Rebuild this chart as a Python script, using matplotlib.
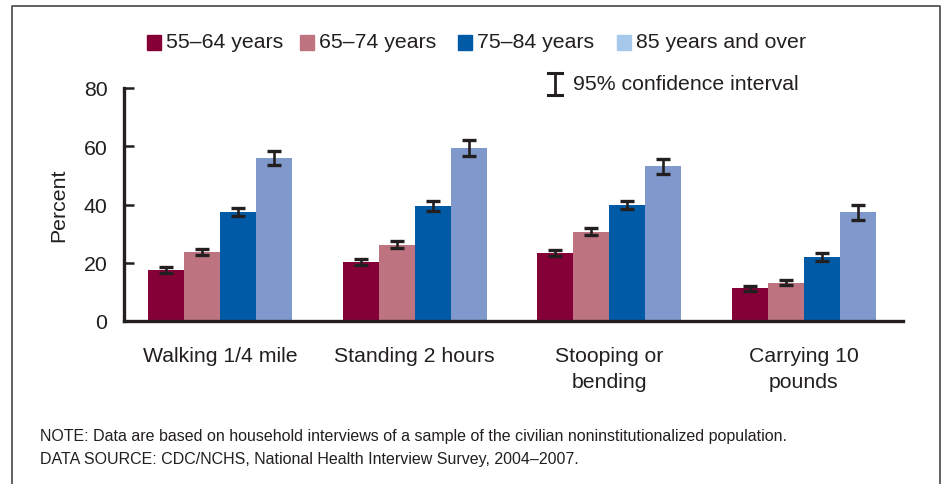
import matplotlib
matplotlib.use("Agg")
import matplotlib.pyplot as plt
from matplotlib.patches import Rectangle
from matplotlib.lines import Line2D
import numpy as np

plt.rcParams['font.family'] = ['Liberation Sans', 'DejaVu Sans']

categories = ["Walking 1/4 mile", "Standing 2 hours", "Stooping or\nbending", "Carrying 10\npounds"]
series = ["55\u201364 years", "65\u201374 years", "75\u201384 years", "85 years and over"]

age_55_64 = [17.5, 20.3, 23.3, 11.3]
age_65_74 = [23.7, 26.1, 30.6, 13.2]
age_75_84 = [37.4, 39.5, 39.8, 22.0]
age_85_up = [56.0, 59.4, 53.1, 37.3]

ci_55_64 = [0.9, 1.0, 1.0, 0.85]
ci_65_74 = [1.1, 1.2, 1.2, 1.0]
ci_75_84 = [1.4, 1.6, 1.4, 1.4]
ci_85_up = [2.5, 2.6, 2.5, 2.6]

values = [age_55_64, age_65_74, age_75_84, age_85_up]
errors = [ci_55_64, ci_65_74, ci_75_84, ci_85_up]

bar_colors = ["#860038", "#BD7480", "#005AA6", "#7F99CC"]
legend_colors = ["#860038", "#BD7480", "#005AA6", "#A5C8EB"]
ink = "#231F20"
fs = 15.3

W, H = 947, 485
fig = plt.figure(figsize=(W / 100, H / 100), dpi=100)
ax = fig.add_axes([124 / W, 1 - 322 / H, (903 - 124) / W, (322 - 89) / H])

x = np.arange(len(categories))
bw = 0.185
for i, (vals, errs, col) in enumerate(zip(values, errors, bar_colors)):
    pos = x + (i - 1.5) * bw
    ax.bar(pos, vals, width=bw, color=col, edgecolor='none', zorder=2)
    ax.errorbar(pos, vals, yerr=errs, fmt='none', ecolor=ink,
                elinewidth=1.9, capsize=5.3, capthick=2.4, zorder=3)

ax.set_xlim(-0.494, 3.51)
ax.set_ylim(0, 80)
ax.set_yticks([0, 20, 40, 60, 80])
ax.tick_params(axis='y', direction='in', length=7, width=1.8,
               labelsize=fs, pad=12, color=ink, labelcolor=ink)
ax.set_xticks(x)
ax.set_xticklabels(categories, fontsize=fs, color=ink, linespacing=1.45)
ax.tick_params(axis='x', length=0, pad=18)
for side in ('top', 'right'):
    ax.spines[side].set_visible(False)
for side in ('left', 'bottom'):
    ax.spines[side].set_linewidth(2.4)
    ax.spines[side].set_color(ink)
ax.set_ylabel("Percent", fontsize=fs, color=ink, labelpad=11)

# Legend row of colour swatches
sw_x = [147, 300, 458, 617]
for sx, col, label in zip(sw_x, legend_colors, series):
    fig.patches.append(Rectangle((sx / W, 1 - 51 / H), 14 / W, 15 / H,
                                 transform=fig.transFigure, color=col))
    fig.text((sx + 19) / W, 1 - 43 / H, label, fontsize=fs, color=ink,
             va='center', ha='left')

# Confidence interval key
cx, y0, y1 = 555, 74, 96
fig.lines.append(Line2D([cx / W, cx / W], [1 - y0 / H, 1 - y1 / H],
                        transform=fig.transFigure, color=ink, lw=2))
for yy in (y0, y1):
    fig.lines.append(Line2D([(cx - 7) / W, (cx + 7) / W], [1 - yy / H, 1 - yy / H],
                            transform=fig.transFigure, color=ink, lw=2.2))
fig.text(573 / W, 1 - 84 / H, "95% confidence interval", fontsize=fs,
         color=ink, va='center', ha='left')

# Notes
fig.text(40 / W, 1 - 437 / H,
         "NOTE: Data are based on household interviews of a sample of the civilian noninstitutionalized population.",
         fontsize=11.55, color=ink, va='center', ha='left')
fig.text(40 / W, 1 - 460 / H,
         "DATA SOURCE: CDC/NCHS, National Health Interview Survey, 2004\u20132007.",
         fontsize=11.55, color=ink, va='center', ha='left')

# Outer frame
fc = "#555555"
fig.lines.append(Line2D([12 / W, 12 / W, 940 / W, 940 / W], [0, 1 - 7 / H, 1 - 7 / H, 0],
                        transform=fig.transFigure, color=fc, lw=1.3))

fig.savefig("out.png", dpi=100)
